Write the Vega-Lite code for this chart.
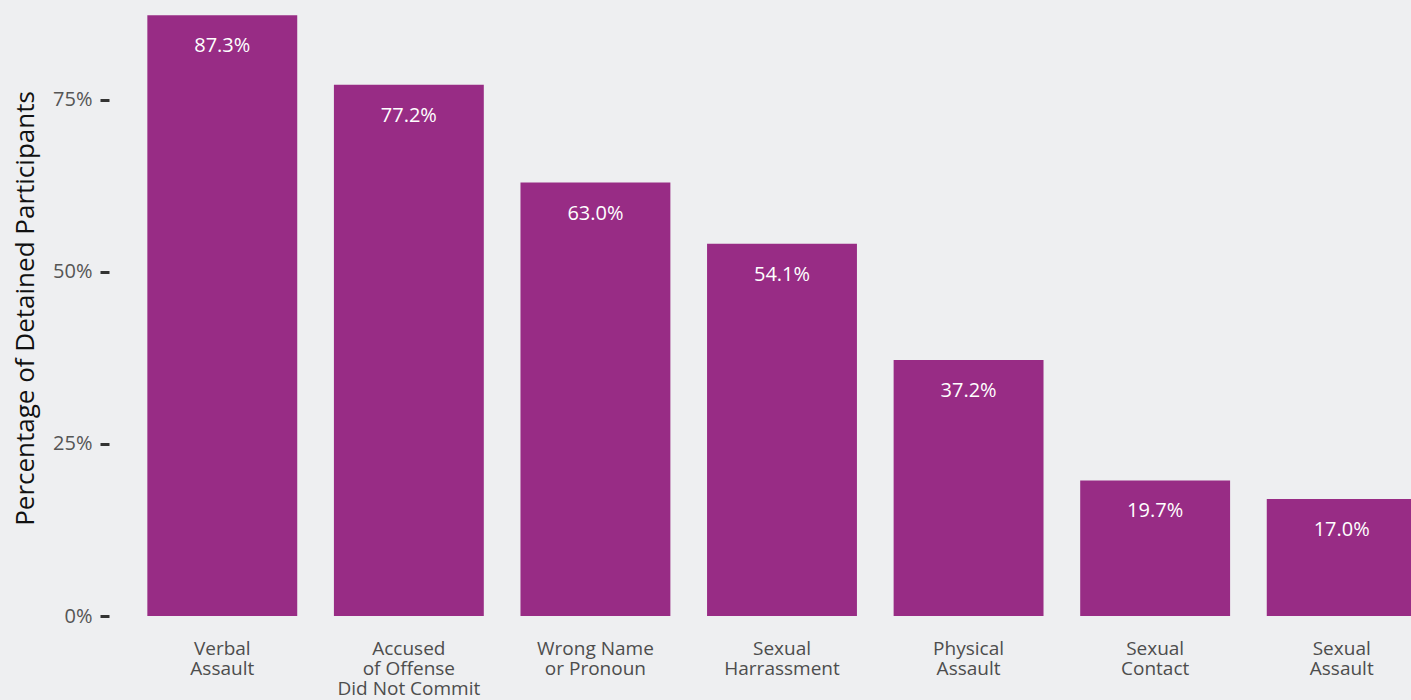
{
  "$schema": "https://vega.github.io/schema/vega-lite/v6.json",
  "autosize": {"type": "none"},
  "width": 1282,
  "height": 616,
  "padding": {"left": 129, "top": 0, "right": 0, "bottom": 84},
  "background": "#eeeff1",
  "config": {
    "view": {"stroke": null},
    "font": "Open Sans"
  },
  "data": {
    "values": [
      {"category": "Verbal|Assault", "value": 0.873},
      {"category": "Accused|of Offense|Did Not Commit", "value": 0.772},
      {"category": "Wrong Name|or Pronoun", "value": 0.630},
      {"category": "Sexual|Harrassment", "value": 0.541},
      {"category": "Physical|Assault", "value": 0.372},
      {"category": "Sexual|Contact", "value": 0.197},
      {"category": "Sexual|Assault", "value": 0.170}
    ]
  },
  "encoding": {
    "x": {
      "field": "category",
      "type": "nominal",
      "sort": null,
      "scale": {"range": [0, 1306], "paddingInner": 0.1966, "paddingOuter": 0.0983},
      "axis": {
        "title": null,
        "labelAngle": 0,
        "ticks": false,
        "domain": false,
        "labelExpr": "split(datum.value, '|')",
        "labelFontSize": 19,
        "labelLineHeight": 20,
        "labelPadding": 23,
        "labelColor": "#4d4d4d",
        "labelFont": "Open Sans"
      }
    },
    "y": {
      "field": "value",
      "type": "quantitative",
      "scale": {"domain": [0, 0.8953], "nice": false, "zero": true},
      "axis": {
        "title": "Percentage of Detained Participants",
        "titleFontSize": 26,
        "titleFontWeight": "normal",
        "titleColor": "#111111",
        "titlePadding": 14,
        "values": [0, 0.25, 0.5, 0.75],
        "format": ".0%",
        "offset": 20,
        "tickSize": 9,
        "tickWidth": 3,
        "tickColor": "#333333",
        "domain": false,
        "grid": false,
        "labelFontSize": 20,
        "labelColor": "#555555",
        "labelPadding": 8
      }
    }
  },
  "layer": [
    {"mark": {"type": "bar", "color": "#982c85"}},
    {
      "mark": {"type": "text", "color": "#ffffff", "fontSize": 20, "baseline": "middle", "dy": 31},
      "encoding": {
        "text": {"field": "value", "type": "quantitative", "format": ".1%"}
      }
    }
  ]
}
